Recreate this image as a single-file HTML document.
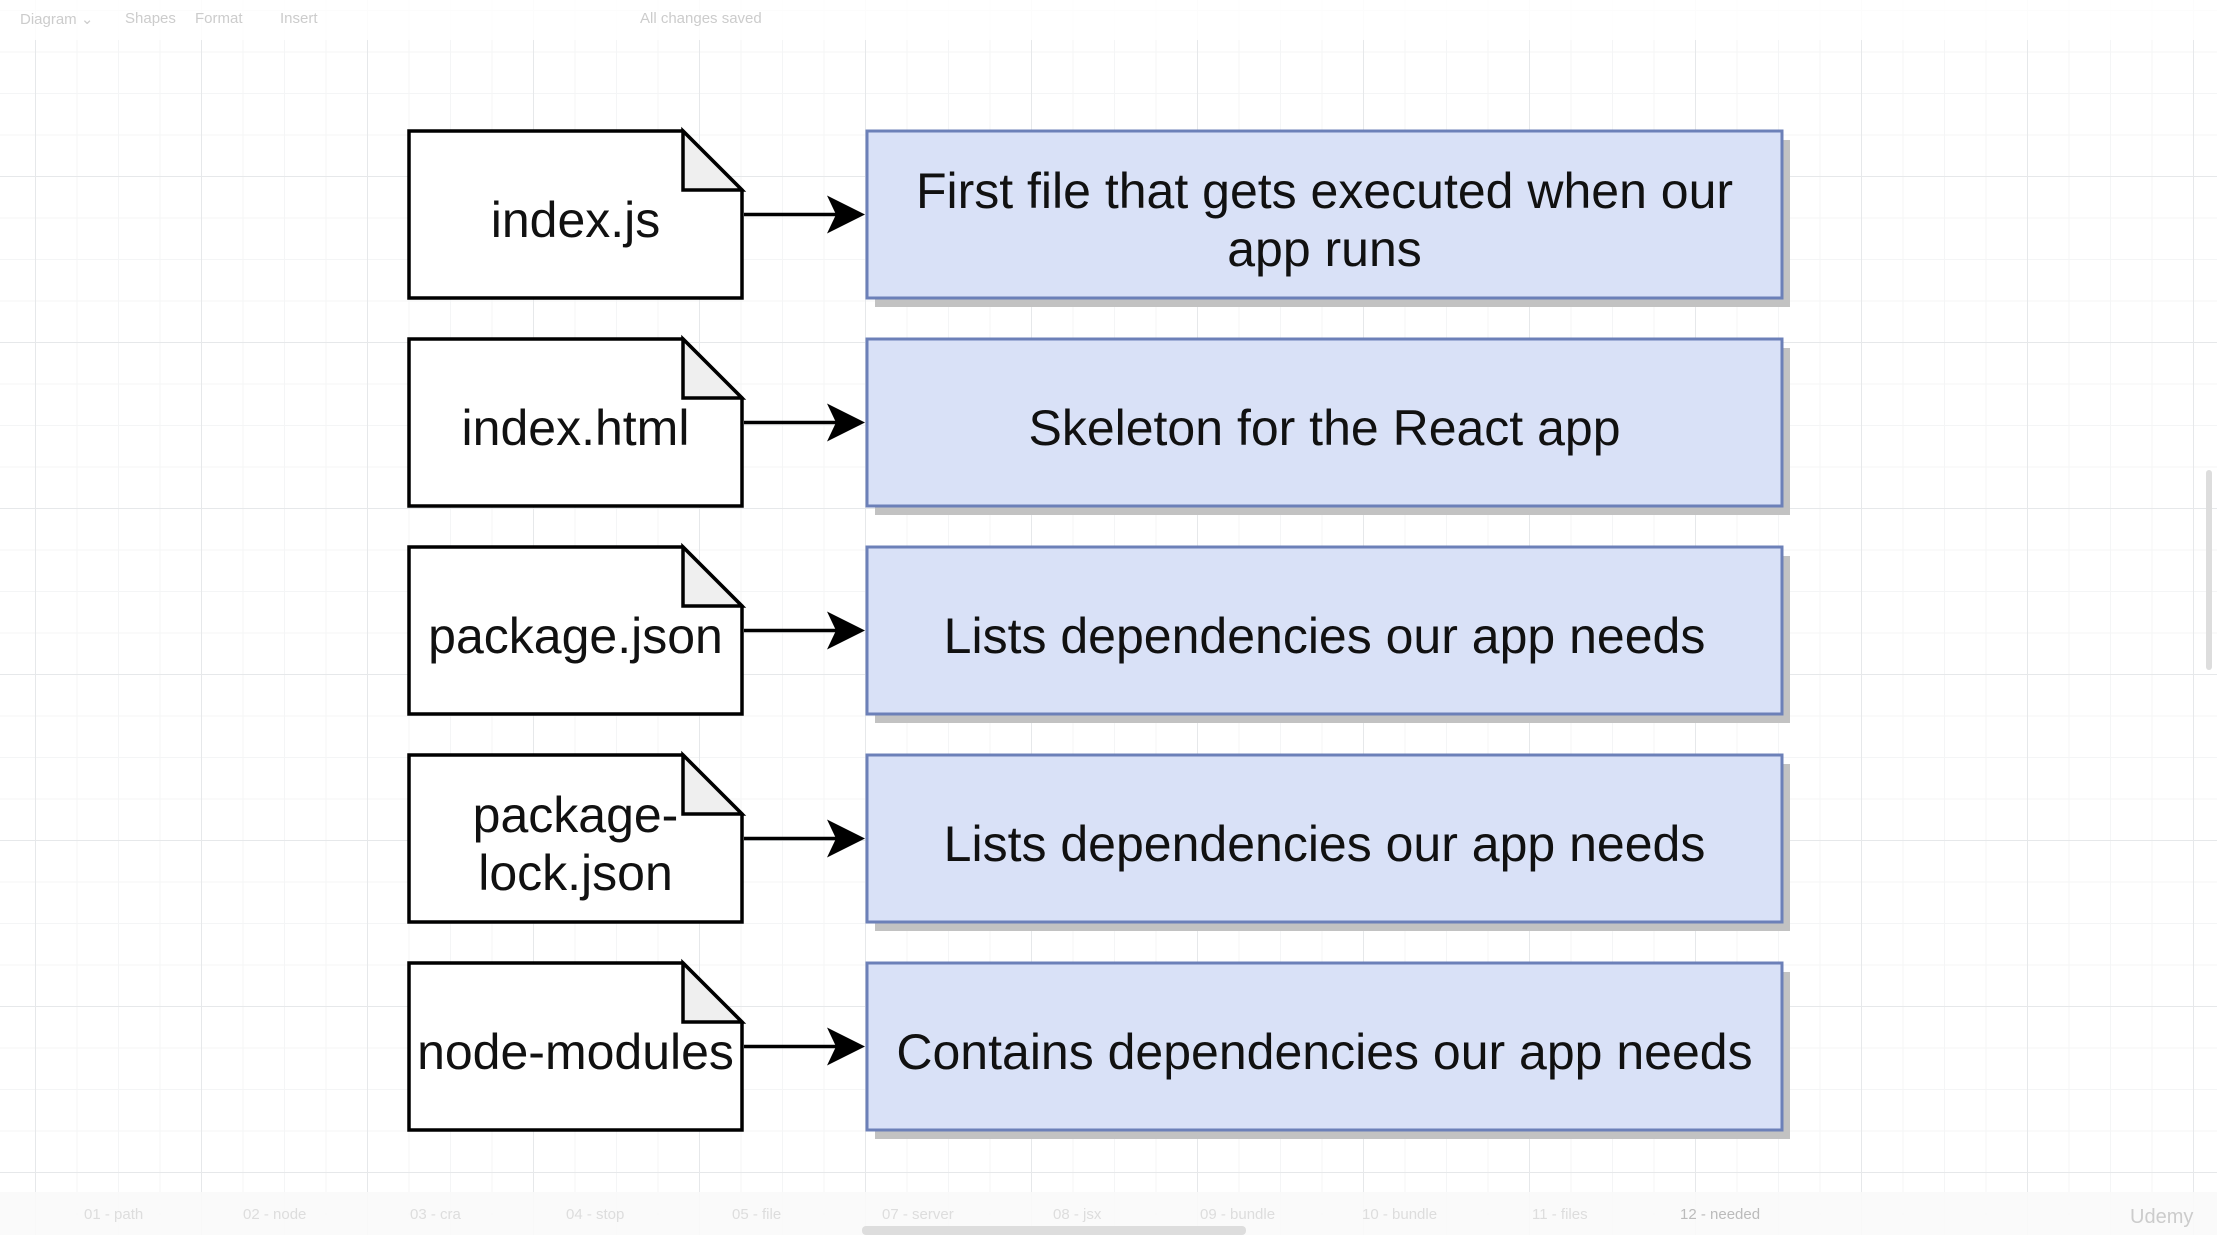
<!DOCTYPE html>
<html><head><meta charset="utf-8"><style>
html,body{margin:0;padding:0}
body{width:2217px;height:1235px;position:relative;overflow:hidden;background:#fff;
background-image:linear-gradient(#e6e8ea 1px,transparent 1px),linear-gradient(90deg,#e6e8ea 1px,transparent 1px),linear-gradient(#f4f5f6 1px,transparent 1px),linear-gradient(90deg,#f4f5f6 1px,transparent 1px);
background-size:166px 166px,166px 166px,41.5px 41.5px,41.5px 41.5px;background-position:35px 10px;font-family:"Liberation Sans",sans-serif}
.tb{position:absolute;left:0;top:0;width:2217px;height:40px;background:rgba(255,255,255,.85);font-size:15px;color:#ccc}
.tb span{position:absolute;top:10px}
.bb{position:absolute;left:0;top:1192px;width:2217px;height:43px;background:rgba(250,250,250,.9);font-size:15px;color:#ddd}
.bb span{position:absolute;top:14px}
.t{position:absolute;color:#111;text-align:center;display:flex;align-items:center;justify-content:center;line-height:58px}
</style></head><body>
<div class="tb"><span style="left:20px">Diagram ⌄</span><span style="left:125px">Shapes</span><span style="left:195px">Format</span><span style="left:280px">Insert</span><span style="left:640px">All changes saved</span></div>
<svg width="2217" height="1235" style="position:absolute;left:0;top:0">
<g id="rows"></g>
</svg>
<div class="bb"><span style="left:84px">01 - path</span><span style="left:243px">02 - node</span><span style="left:410px">03 - cra</span><span style="left:566px">04 - stop</span><span style="left:732px">05 - file</span><span style="left:882px">07 - server</span><span style="left:1053px">08 - jsx</span><span style="left:1200px">09 - bundle</span><span style="left:1362px">10 - bundle</span><span style="left:1532px">11 - files</span><span style="left:1680px;color:#bbb">12 - needed</span><span style="left:2130px;color:#ccc;font-size:20px">Udemy</span></div>
<div style="position:absolute;left:862px;top:1226px;width:384px;height:9px;background:#ddd;border-radius:4px"></div>
<div style="position:absolute;left:2206px;top:470px;width:6px;height:200px;background:#ddd;border-radius:3px"></div>
<script>
var ys=[131,339,547,755,963],h=167;
var files=["index.js","index.html","package.json","package-<br>lock.json","node-modules"];
var descs=["First file that gets executed when our<br>app runs","Skeleton for the React app","Lists dependencies our app needs","Lists dependencies our app needs","Contains dependencies our app needs"];
var g="",html="";
ys.forEach(function(y,i){
 var cy=y+h/2;
 g+='<rect x="875" y="'+(y+9)+'" width="915" height="'+h+'" fill="#c2c2c2"/>';
 g+='<rect x="867" y="'+y+'" width="915" height="'+h+'" fill="#d9e1f7" stroke="#6c80b8" stroke-width="3"/>';
 g+='<path d="M409 '+y+' H683 L742 '+(y+59)+' V'+(y+h)+' H409 Z" fill="#fff" stroke="#000" stroke-width="3.5"/>';
 g+='<path d="M683 '+y+' V'+(y+59)+' H742 Z" fill="#efefef" stroke="#000" stroke-width="3.5"/>';
 g+='<line x1="744" y1="'+cy+'" x2="845" y2="'+cy+'" stroke="#000" stroke-width="3.5"/>';
 g+='<path d="M865 '+cy+' L827 '+(cy-19)+' L836 '+cy+' L827 '+(cy+19)+' Z" fill="#000"/>';
 html+='<div class="t" style="left:409px;top:'+(y+5)+'px;width:333px;height:'+h+'px;font-size:50px">'+files[i]+'</div>';
 html+='<div class="t" style="left:867px;top:'+(y+5)+'px;width:915px;height:'+h+'px;font-size:50px">'+descs[i]+'</div>';
});
document.getElementById("rows").innerHTML=g;
document.body.insertAdjacentHTML("beforeend",html);
</script>
</body></html>
